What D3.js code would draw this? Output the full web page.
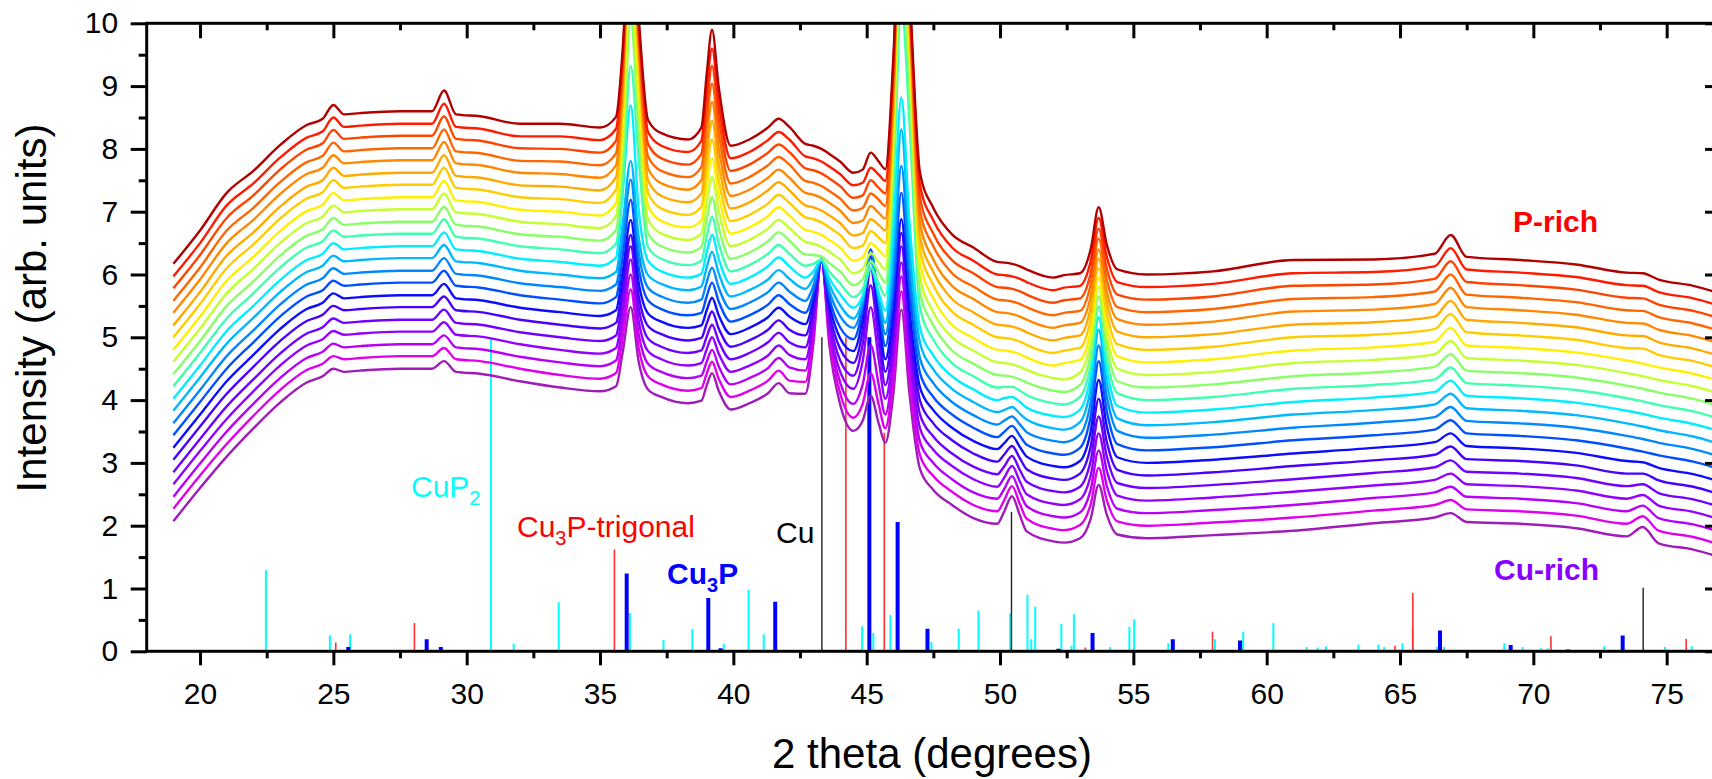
<!DOCTYPE html>
<html><head><meta charset="utf-8">
<script src="https://cdn.jsdelivr.net/npm/d3@7"></script>
<style>
body{margin:0;background:#fff;}
svg{display:block;}
text{font-family:"Liberation Sans",Arial,Helvetica,sans-serif;}
</style>
</head><body>
<svg id="chart" width="1712" height="779"></svg>
<script>
// ---------- data ----------
const twoTheta = [19.0,20.0,21.0,22.0,23.0,24.0,24.6,25.0,25.4,26.0,27.5,28.7,29.15,29.6,30.5,32.0,33.5,35.0,35.6,35.85,36.15,36.45,36.8,37.3,38.3,38.8,39.0,39.2,39.45,39.9,40.6,41.3,41.7,42.1,42.7,43.0,43.3,43.6,44.0,44.5,44.85,45.15,45.45,45.7,46.0,46.3,46.6,47.0,47.5,48.2,49.0,49.9,50.15,50.45,50.75,51.0,52.0,52.4,53.0,53.4,53.7,54.0,54.4,55.5,58.0,61.0,64.0,66.3,66.9,67.5,69.5,71.6,73.5,74.1,74.7,76.0,77.0];

// one row per measured pattern, bottom (Cu-rich) to top (P-rich)
const scans = [
[2.07,2.6,3.1,3.55,3.96,4.28,4.38,4.5,4.45,4.47,4.5,4.5,4.62,4.45,4.42,4.3,4.2,4.14,4.22,4.76,5.48,4.61,4.17,4.05,3.95,3.99,4.23,4.43,4.15,3.85,3.95,4.11,4.27,4.11,4.1,4.89,6.25,4.88,3.94,3.51,3.67,4.07,3.63,3.32,4.1,5.44,4.12,2.9,2.57,2.33,2.12,2.03,2.22,2.47,2.16,1.91,1.75,1.73,1.8,2.11,2.65,2.18,1.86,1.8,1.85,1.92,2.04,2.13,2.2,2.06,2.03,1.96,1.83,1.98,1.72,1.62,1.5],
[2.27,2.8,3.3,3.75,4.16,4.48,4.58,4.7,4.65,4.67,4.7,4.7,4.83,4.65,4.62,4.5,4.4,4.34,4.43,4.99,5.76,4.83,4.38,4.25,4.15,4.19,4.42,4.61,4.34,4.05,4.15,4.31,4.47,4.31,4.29,5.0,6.25,4.99,4.12,3.72,3.94,4.43,3.93,3.55,4.34,5.73,4.37,3.12,2.79,2.54,2.33,2.23,2.4,2.63,2.34,2.11,1.95,1.93,2.01,2.34,2.92,2.41,2.07,2.0,2.05,2.13,2.24,2.33,2.41,2.26,2.23,2.16,2.03,2.15,1.92,1.82,1.7],
[2.46,2.99,3.5,3.94,4.35,4.67,4.77,4.9,4.84,4.86,4.89,4.89,5.03,4.84,4.81,4.69,4.6,4.54,4.63,5.21,6.0,5.05,4.58,4.45,4.35,4.39,4.61,4.8,4.54,4.25,4.35,4.51,4.67,4.52,4.47,5.12,6.24,5.09,4.29,3.94,4.25,4.88,4.25,3.77,4.57,5.97,4.6,3.33,3.0,2.74,2.53,2.43,2.58,2.79,2.52,2.31,2.15,2.13,2.21,2.57,3.2,2.64,2.27,2.2,2.25,2.33,2.44,2.53,2.62,2.46,2.43,2.36,2.23,2.32,2.12,2.02,1.9],
[2.66,3.19,3.7,4.14,4.55,4.87,4.97,5.1,5.04,5.06,5.09,5.09,5.24,5.04,5.01,4.89,4.8,4.74,4.83,5.43,6.24,5.26,4.78,4.65,4.55,4.59,4.81,5.0,4.74,4.45,4.55,4.71,4.87,4.72,4.65,5.24,6.24,5.19,4.46,4.18,4.62,5.48,4.65,4.02,4.78,6.19,4.81,3.55,3.21,2.95,2.74,2.62,2.76,2.95,2.7,2.5,2.35,2.33,2.42,2.8,3.47,2.88,2.48,2.4,2.45,2.54,2.64,2.73,2.83,2.66,2.63,2.56,2.43,2.49,2.32,2.22,2.1],
[2.85,3.38,3.9,4.33,4.74,5.06,5.16,5.3,5.23,5.25,5.28,5.28,5.44,5.23,5.2,5.08,5.0,4.94,5.03,5.64,6.45,5.47,4.98,4.85,4.75,4.79,5.01,5.2,4.94,4.65,4.75,4.92,5.07,4.92,4.84,5.35,6.23,5.3,4.64,4.39,4.89,5.83,4.93,4.24,5.01,6.45,5.05,3.77,3.42,3.15,2.94,2.82,2.94,3.11,2.88,2.7,2.55,2.53,2.62,3.03,3.74,3.11,2.68,2.6,2.65,2.74,2.84,2.93,3.04,2.86,2.83,2.76,2.63,2.66,2.52,2.42,2.3],
[3.05,3.58,4.1,4.53,4.94,5.26,5.36,5.5,5.43,5.45,5.48,5.48,5.65,5.43,5.4,5.28,5.2,5.14,5.23,5.83,6.63,5.66,5.18,5.05,4.95,4.99,5.22,5.41,5.14,4.85,4.95,5.12,5.27,5.12,5.03,5.47,6.23,5.4,4.82,4.59,5.11,6.09,5.17,4.45,5.22,6.66,5.26,3.99,3.63,3.36,3.15,3.02,3.13,3.27,3.07,2.9,2.75,2.73,2.83,3.26,4.02,3.34,2.89,2.8,2.85,2.95,3.04,3.13,3.26,3.06,3.03,2.96,2.83,2.83,2.72,2.62,2.5],
[3.24,3.77,4.3,4.72,5.13,5.45,5.55,5.7,5.62,5.64,5.67,5.67,5.85,5.62,5.59,5.47,5.4,5.34,5.43,6.04,6.87,5.87,5.38,5.25,5.15,5.19,5.43,5.63,5.35,5.05,5.15,5.32,5.47,5.33,5.21,5.59,6.24,5.52,4.99,4.78,5.31,6.28,5.36,4.65,5.44,6.88,5.47,4.2,3.84,3.56,3.35,3.22,3.31,3.43,3.25,3.1,2.95,2.93,3.03,3.5,4.32,3.59,3.09,3.0,3.05,3.15,3.24,3.33,3.47,3.27,3.23,3.16,3.03,3.01,2.92,2.82,2.7],
[3.44,3.97,4.5,4.92,5.33,5.65,5.75,5.9,5.82,5.84,5.87,5.87,6.06,5.82,5.79,5.67,5.6,5.54,5.64,6.3,7.19,6.11,5.59,5.45,5.35,5.39,5.65,5.87,5.57,5.25,5.35,5.52,5.67,5.53,5.39,5.7,6.24,5.62,5.16,4.97,5.47,6.4,5.52,4.86,5.74,7.3,5.79,4.43,4.05,3.77,3.56,3.41,3.49,3.59,3.43,3.29,3.15,3.13,3.24,3.74,4.62,3.83,3.3,3.2,3.25,3.36,3.44,3.53,3.68,3.47,3.43,3.36,3.23,3.18,3.12,3.02,2.9],
[3.63,4.16,4.7,5.11,5.52,5.84,5.94,6.1,6.01,6.03,6.06,6.06,6.26,6.01,5.98,5.86,5.8,5.74,5.84,6.55,7.51,6.36,5.79,5.65,5.55,5.6,5.88,6.11,5.79,5.45,5.55,5.72,5.87,5.73,5.58,5.82,6.23,5.73,5.34,5.15,5.55,6.34,5.61,5.05,6.04,7.73,6.11,4.66,4.27,3.97,3.76,3.61,3.67,3.74,3.61,3.49,3.35,3.33,3.45,3.96,4.87,4.06,3.51,3.4,3.45,3.56,3.64,3.73,3.89,3.67,3.63,3.56,3.43,3.38,3.32,3.22,3.1],
[3.83,4.36,4.9,5.31,5.72,6.04,6.14,6.3,6.21,6.23,6.26,6.26,6.47,6.21,6.18,6.06,6.0,5.94,6.04,6.8,7.81,6.59,5.99,5.85,5.75,5.81,6.11,6.36,6.02,5.65,5.75,5.92,6.07,5.93,5.77,5.94,6.24,5.84,5.51,5.3,5.6,6.2,5.65,5.23,6.41,8.31,6.5,4.91,4.49,4.18,3.97,3.81,3.84,3.89,3.78,3.69,3.55,3.53,3.65,4.18,5.12,4.28,3.71,3.6,3.65,3.77,3.84,3.93,4.1,3.87,3.83,3.76,3.63,3.58,3.52,3.42,3.3],
[4.02,4.55,5.1,5.5,5.91,6.23,6.33,6.5,6.4,6.42,6.45,6.45,6.67,6.4,6.37,6.25,6.2,6.14,6.27,7.3,8.69,7.03,6.22,6.05,5.95,6.01,6.35,6.63,6.25,5.85,5.95,6.13,6.27,6.13,5.95,6.05,6.23,5.94,5.69,5.47,5.66,6.1,5.71,5.42,6.75,8.82,6.86,5.15,4.71,4.38,4.17,4.0,4.03,4.05,3.97,3.88,3.75,3.73,3.85,4.38,5.32,4.48,3.91,3.8,3.85,3.97,4.04,4.13,4.31,4.07,4.03,3.96,3.83,3.78,3.72,3.62,3.5],
[4.22,4.75,5.3,5.7,6.11,6.43,6.53,6.7,6.6,6.62,6.65,6.65,6.88,6.6,6.57,6.45,6.4,6.34,6.49,7.4,9.32,7.83,6.44,6.25,6.15,6.22,6.6,6.92,6.5,6.05,6.15,6.33,6.47,6.33,6.14,6.17,6.24,6.05,5.86,5.64,5.77,6.11,5.86,5.66,7.36,10.31,8.46,5.47,4.96,4.59,4.38,4.2,4.21,4.21,4.15,4.08,3.95,3.93,4.05,4.57,5.49,4.66,4.11,4.0,4.05,4.18,4.24,4.33,4.52,4.27,4.23,4.16,4.03,3.98,3.92,3.82,3.7],
[4.41,4.94,5.5,5.89,6.3,6.62,6.72,6.9,6.79,6.81,6.84,6.84,7.08,6.79,6.76,6.64,6.6,6.54,6.71,7.79,10.05,8.29,6.66,6.45,6.35,6.44,6.87,7.23,6.75,6.25,6.35,6.53,6.67,6.54,6.32,6.31,6.29,6.18,6.05,5.83,5.93,6.21,6.03,5.87,7.77,11.02,9.0,5.72,5.19,4.79,4.58,4.4,4.39,4.37,4.33,4.28,4.15,4.13,4.24,4.75,5.65,4.85,4.3,4.2,4.25,4.38,4.44,4.53,4.73,4.47,4.43,4.36,4.23,4.18,4.12,4.02,3.9],
[4.61,5.14,5.7,6.09,6.5,6.82,6.92,7.1,6.99,7.01,7.04,7.04,7.29,6.99,6.96,6.84,6.8,6.74,6.93,8.13,10.65,8.69,6.88,6.65,6.55,6.65,7.14,7.55,7.01,6.45,6.55,6.73,6.87,6.74,6.52,6.49,6.44,6.36,6.24,6.02,6.09,6.34,6.2,6.08,8.1,11.53,9.4,5.96,5.4,5.0,4.79,4.6,4.59,4.57,4.53,4.48,4.35,4.33,4.44,4.93,5.8,5.02,4.5,4.4,4.45,4.59,4.64,4.73,4.94,4.67,4.63,4.56,4.43,4.38,4.32,4.22,4.1],
[4.8,5.33,5.9,6.28,6.69,7.01,7.11,7.3,7.18,7.2,7.23,7.23,7.49,7.18,7.15,7.03,7.0,6.94,7.14,8.43,11.15,9.04,7.09,6.85,6.75,6.86,7.4,7.85,7.26,6.65,6.75,6.93,7.07,6.94,6.71,6.68,6.63,6.55,6.43,6.22,6.27,6.5,6.39,6.29,8.39,11.94,9.74,6.19,5.62,5.2,4.99,4.8,4.79,4.77,4.73,4.68,4.55,4.59,4.64,5.11,5.95,5.2,4.7,4.6,4.65,4.79,4.84,4.93,5.15,4.87,4.83,4.76,4.63,4.58,4.52,4.42,4.3],
[5.0,5.53,6.1,6.48,6.89,7.21,7.31,7.5,7.38,7.4,7.43,7.43,7.7,7.38,7.35,7.23,7.2,7.14,7.35,8.7,11.55,9.34,7.3,7.05,6.95,7.08,7.66,8.15,7.51,6.85,6.95,7.13,7.27,7.14,6.91,6.88,6.83,6.75,6.63,6.42,6.46,6.69,6.59,6.5,8.6,12.15,9.95,6.41,5.83,5.41,5.2,5.0,4.99,4.97,4.93,4.88,4.75,4.79,4.83,5.29,6.1,5.38,4.89,4.8,4.85,5.0,5.04,5.13,5.37,5.08,5.03,4.96,4.83,4.82,4.72,4.62,4.5],
[5.19,5.72,6.3,6.67,7.08,7.4,7.5,7.7,7.57,7.59,7.62,7.62,7.9,7.57,7.54,7.42,7.4,7.34,7.55,8.9,11.75,9.54,7.5,7.25,7.15,7.29,7.92,8.45,7.76,7.05,7.15,7.34,7.47,7.34,7.1,7.07,7.02,6.94,6.82,6.62,6.66,6.88,6.79,6.7,8.77,12.26,10.1,6.61,6.04,5.61,5.4,5.2,5.19,5.17,5.13,5.08,4.95,4.99,5.03,5.47,6.25,5.56,5.09,5.0,5.05,5.2,5.24,5.33,5.58,5.28,5.23,5.16,5.03,5.02,4.92,4.82,4.7],
[5.39,5.92,6.5,6.87,7.28,7.6,7.7,7.9,7.77,7.79,7.82,7.82,8.11,7.77,7.74,7.62,7.6,7.54,7.74,9.07,11.85,9.69,7.69,7.45,7.35,7.5,8.18,8.75,8.01,7.25,7.35,7.54,7.67,7.54,7.3,7.27,7.22,7.14,7.02,6.82,6.86,7.09,6.98,6.89,8.94,12.37,10.24,6.82,6.24,5.82,5.61,5.4,5.39,5.37,5.33,5.28,5.15,5.19,5.23,5.65,6.4,5.73,5.29,5.2,5.25,5.41,5.44,5.53,5.79,5.48,5.43,5.36,5.23,5.22,5.12,5.02,4.9],
[5.58,6.11,6.7,7.06,7.47,7.79,7.89,8.1,7.96,7.98,8.01,8.01,8.31,7.96,7.93,7.81,7.8,7.74,7.93,9.2,11.85,9.79,7.88,7.65,7.55,7.71,8.44,9.04,8.26,7.45,7.55,7.74,7.87,7.75,7.49,7.46,7.41,7.33,7.21,7.02,7.06,7.29,7.19,7.09,9.07,12.38,10.32,7.02,6.45,6.02,5.81,5.6,5.59,5.57,5.53,5.48,5.35,5.39,5.42,5.84,6.57,5.92,5.48,5.4,5.45,5.61,5.64,5.73,6.0,5.68,5.63,5.56,5.43,5.42,5.32,5.22,5.1],
[5.78,6.31,6.9,7.26,7.67,7.99,8.09,8.3,8.16,8.18,8.21,8.21,8.52,8.16,8.13,8.01,8.0,7.94,8.13,9.33,11.85,9.89,8.08,7.85,7.75,7.92,8.68,9.32,8.5,7.65,7.75,7.94,8.07,7.95,7.69,7.66,7.61,7.53,7.41,7.22,7.26,7.5,7.38,7.29,9.2,12.39,10.4,7.22,6.65,6.23,6.02,5.8,5.79,5.77,5.73,5.68,5.55,5.59,5.62,6.02,6.73,6.1,5.68,5.6,5.65,5.82,5.84,5.93,6.21,5.88,5.83,5.76,5.63,5.62,5.52,5.42,5.3],
[5.97,6.5,7.1,7.45,7.86,8.18,8.28,8.5,8.35,8.37,8.4,8.4,8.72,8.35,8.32,8.2,8.2,8.14,8.32,9.46,11.85,9.99,8.27,8.05,7.95,8.13,8.93,9.6,8.74,7.85,7.95,8.14,8.27,8.15,7.88,7.85,7.8,7.72,7.6,7.42,7.46,7.7,7.59,7.49,9.33,12.4,10.48,7.42,6.86,6.43,6.22,6.0,5.99,5.97,5.93,5.88,5.75,5.79,5.82,6.21,6.9,6.29,5.88,5.8,5.85,6.02,6.04,6.13,6.42,6.08,6.03,5.96,5.83,5.82,5.72,5.62,5.5],
[6.17,6.7,7.3,7.65,8.06,8.38,8.48,8.7,8.55,8.57,8.6,8.6,8.93,8.55,8.52,8.4,8.4,8.34,8.51,9.59,11.85,10.09,8.46,8.25,8.15,8.34,9.19,9.9,8.99,8.05,8.15,8.34,8.48,8.35,8.08,8.05,8.0,7.92,7.8,7.62,7.67,7.94,7.8,7.68,9.46,12.41,10.56,7.62,7.06,6.64,6.43,6.2,6.19,6.17,6.13,6.08,5.95,5.99,6.02,6.4,7.07,6.48,6.08,6.0,6.05,6.23,6.24,6.33,6.63,6.28,6.23,6.16,6.03,6.02,5.92,5.82,5.7]
];

const scanColors = ["#a01cb8","#e000ee","#b800f8","#9400ff","#7000ff","#4800ff","#0c0cff","#0050ff","#0088ff","#00b8ff","#00eeff","#40ffb0","#88ff66","#c4ff30","#fff000","#ffcc00","#ffaa00","#ff8800","#ff6600","#ff4400","#ff1a00","#b00000"];

// reference patterns: [2theta, intensity]
const cuP2Sticks = [[22.47,1.29],[24.87,0.25],[25.63,0.27],[30.91,4.98],[31.76,0.12],[33.45,0.78],[36.12,0.61],[37.38,0.18],[38.46,0.35],[39.64,0.12],[40.57,0.98],[41.14,0.27],[44.83,0.40],[45.25,0.29],[45.89,0.58],[47.43,0.15],[48.45,0.36],[49.19,0.65],[50.38,0.6],[51.03,0.90],[51.17,0.19],[51.32,0.71],[52.30,0.44],[52.68,0.09],[52.77,0.59],[54.13,0.07],[54.85,0.39],[55.03,0.51],[56.31,0.13],[58.06,0.19],[59.12,0.31],[60.25,0.45],[61.5,0.07],[61.91,0.06],[62.22,0.08],[63.44,0.11],[64.19,0.11],[64.41,0.07],[65.09,0.13],[65.48,0.37],[66.38,0.07],[66.65,0.07],[68.91,0.13],[69.6,0.07],[70.28,0.05],[70.54,0.05],[72.66,0.08],[74.94,0.07],[75.94,0.08]];
const cu3PTrigonalSticks = [[25.09,0.14],[28.04,0.45],[35.54,1.62],[44.22,5.0],[45.66,3.48],[53.2,0.06],[57.97,0.31],[64.81,0.09],[65.48,0.93],[70.66,0.24],[75.73,0.20]];
const cu3PSticks = [[25.56,0.07],[28.5,0.19],[29.03,0.07],[36.0,1.24],[39.06,0.85],[39.52,0.05],[41.57,0.79],[45.1,5.0],[46.16,2.06],[47.28,0.36],[52.19,0.04],[53.47,0.29],[56.48,0.19],[59.0,0.17],[66.5,0.33],[67.41,0.02],[68.5,0.02],[69.15,0.10],[71.3,0.03],[73.35,0.25]];
const cuSticks = [[43.32,5.0],[50.43,2.22],[74.12,1.01]];

const xMajorTicks = [20,25,30,35,40,45,50,55,60,65,70,75];
const xMinorTicks = [22.5,27.5,32.5,37.5,42.5,47.5,52.5,57.5,62.5,67.5,72.5,77];
const yMajorTicks = [0,1,2,3,4,5,6,7,8,9,10];
const yMinorTicks = [0.5,1.5,2.5,3.5,4.5,5.5,6.5,7.5,8.5,9.5];

// ---------- drawing ----------
const svg = d3.select("#chart");
const L = 146.7, R = 1720, T = 23.3, B = 651.3;
const x = d3.scaleLinear().domain([18, 77]).range([L, R]);
const y = d3.scaleLinear().domain([0, 10]).range([B, T]);

svg.append("defs").append("clipPath").attr("id","plotclip")
  .append("rect").attr("x",L).attr("y",T).attr("width",R-L).attr("height",B-T);

const plot = svg.append("g").attr("clip-path","url(#plotclip)");

function drawSticks(data, color, width){
  plot.append("g").selectAll("line").data(data).join("line")
    .attr("x1", d => x(d[0])).attr("x2", d => x(d[0]))
    .attr("y1", y(0)).attr("y2", d => y(d[1]))
    .attr("stroke", color).attr("stroke-width", width);
}
drawSticks(cuP2Sticks, "#00ffff", 2);
drawSticks(cu3PTrigonalSticks, "#ff3030", 1.6);
drawSticks(cuSticks, "#222222", 1.4);
drawSticks(cu3PSticks, "#0000ff", 4);

const line = d3.line().x((d,i) => x(twoTheta[i])).y(d => y(d)).curve(d3.curveMonotoneX);
plot.append("g").selectAll("path").data(scans).join("path")
  .attr("d", d => line(d))
  .attr("fill","none")
  .attr("stroke", (d,i) => scanColors[i])
  .attr("stroke-width", 2.4)
  .attr("stroke-linejoin","round");

// axes
const tickW = 3;
function styleAxis(g){
  g.select(".domain").remove();
  g.selectAll(".tick line").attr("stroke","#000").attr("stroke-width",tickW);
  g.selectAll(".tick text").attr("font-size",30).attr("fill","#000")
   .attr("font-family",'"Liberation Sans",Arial,sans-serif');
}
svg.append("g").attr("transform",`translate(0,${B})`)
  .call(d3.axisBottom(x).tickValues(xMajorTicks).tickSize(14).tickPadding(17.5).tickFormat(d3.format("d")))
  .call(styleAxis);
svg.append("g").attr("transform",`translate(0,${B})`)
  .call(d3.axisBottom(x).tickValues(xMinorTicks).tickSize(7).tickFormat(""))
  .call(styleAxis);
svg.append("g").attr("transform",`translate(0,${T})`)
  .call(d3.axisTop(x).tickValues(xMajorTicks).tickSize(-15).tickFormat(""))
  .call(styleAxis);
svg.append("g").attr("transform",`translate(0,${T})`)
  .call(d3.axisTop(x).tickValues(xMinorTicks).tickSize(-7).tickFormat(""))
  .call(styleAxis);
svg.append("g").attr("transform",`translate(${L},0)`)
  .call(d3.axisLeft(y).tickValues(yMajorTicks).tickSize(16).tickPadding(12.5).tickFormat(d3.format("d")))
  .call(styleAxis);
svg.append("g").attr("transform",`translate(${L},0)`)
  .call(d3.axisLeft(y).tickValues(yMinorTicks).tickSize(8).tickFormat(""))
  .call(styleAxis);
svg.append("g").attr("transform",`translate(${R},0)`)
  .call(d3.axisRight(y).tickValues(yMajorTicks).tickSize(-15).tickFormat(""))
  .call(styleAxis);
svg.append("g").attr("transform",`translate(${R},0)`)
  .call(d3.axisRight(y).tickValues(yMinorTicks).tickSize(-7).tickFormat(""))
  .call(styleAxis);

svg.append("rect").attr("x",L).attr("y",T).attr("width",R-L).attr("height",B-T)
  .attr("fill","none").attr("stroke","#000").attr("stroke-width",3);

// axis titles
svg.append("text").attr("x",932).attr("y",768).attr("text-anchor","middle")
  .attr("font-size",42).attr("fill","#000").text("2 theta (degrees)");
svg.append("text").attr("transform","translate(46,308) rotate(-90)").attr("text-anchor","middle")
  .attr("font-size",42).attr("fill","#000").text("Intensity (arb. units)");

// phase labels
function label(xp, yp, color, parts, bold){
  const t = svg.append("text").attr("x",xp).attr("y",yp).attr("fill",color)
    .attr("font-size",30).attr("font-weight", bold ? "bold" : "normal");
  parts.forEach(p => {
    const ts = t.append("tspan").text(p.t);
    if (p.sub) ts.attr("font-size",20).attr("dy",8);
    if (p.up) ts.attr("dy",-8);
  });
}
label(411, 497, "#00ffff", [{t:"CuP"},{t:"2",sub:true}], false);
label(517, 537, "#ff0000", [{t:"Cu"},{t:"3",sub:true},{t:"P-trigonal",up:true}], false);
label(667, 584, "#0000ff", [{t:"Cu"},{t:"3",sub:true},{t:"P",up:true}], true);
label(776, 543, "#000000", [{t:"Cu"}], false);
label(1513, 232, "#ff0000", [{t:"P-rich"}], true);
label(1494, 580, "#8800ff", [{t:"Cu-rich"}], true);
</script>
</body></html>
